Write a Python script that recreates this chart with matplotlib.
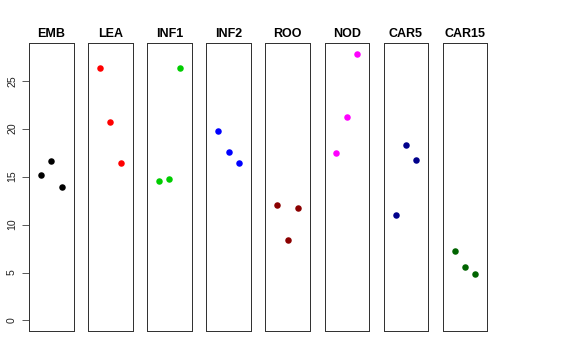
import matplotlib
matplotlib.use("Agg")
import matplotlib.pyplot as plt

plt.rcParams['font.family'] = ['Liberation Sans', 'DejaVu Sans']

panels = ["EMB", "LEA", "INF1", "INF2", "ROO", "NOD", "CAR5", "CAR15"]
colors = ["black", "red", "#00CD00", "blue", "#8B0000", "magenta", "#00008B", "#006400"]
values = {
    "EMB":   [15.2, 16.6, 13.9],
    "LEA":   [26.3, 20.7, 16.4],
    "INF1":  [14.5, 14.8, 26.3],
    "INF2":  [19.8, 17.6, 16.4],
    "ROO":   [12.0, 8.4, 11.7],
    "NOD":   [17.5, 21.2, 27.8],
    "CAR5":  [11.0, 18.3, 16.7],
    "CAR15": [7.2, 5.6, 4.8],
}
x_pos = [1, 2, 3]
yticks = [0, 5, 10, 15, 20, 25]

W, H = 576, 360
fig = plt.figure(figsize=(W / 72, H / 72), dpi=72)

left0 = 29.0
pw = 44.5
step = 59.1
top = 43.3
bottom = 331.0

for i, name in enumerate(panels):
    l = left0 + i * step
    ax = fig.add_axes([l / W, 1 - bottom / H, pw / W, (bottom - top) / H])
    ax.plot(x_pos, values[name], 'o', color=colors[i], ms=6.5, mec='none')
    ax.set_xlim(-0.15, 4.15)
    ax.set_ylim(-1.1, 28.9)
    ax.set_xticks([])
    for s in ax.spines.values():
        s.set_linewidth(1.0)
        s.set_color('#333333')
    if i == 0:
        ax.set_yticks(yticks)
        ax.set_yticklabels([str(t) for t in yticks], rotation=90, va='center', fontsize=10.5)
        ax.tick_params(axis='y', length=7, width=0.8, pad=5, colors='#333333', labelcolor='#222222')
    else:
        ax.set_yticks([])
    ax.set_title(name, fontsize=12.5, fontweight='bold', pad=6)

fig.savefig("out.png", dpi=72, facecolor='white')
